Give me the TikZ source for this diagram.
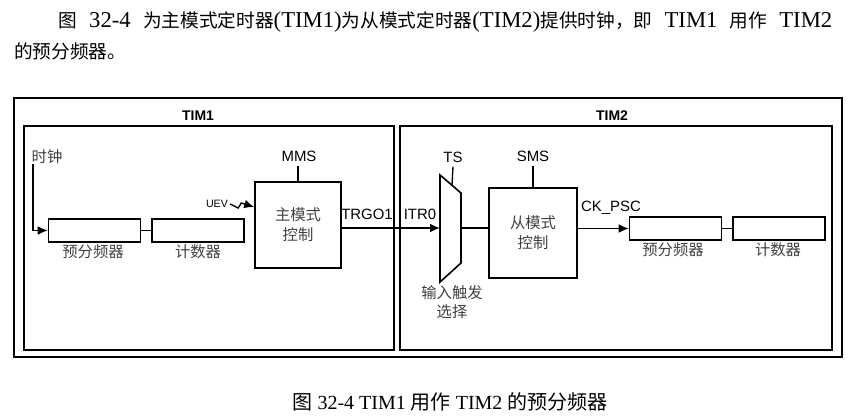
\documentclass[tikz,border=0pt]{standalone}
\usepackage{fontspec}
\setmainfont{Liberation Serif}
\setsansfont{Liberation Sans}
\newfontfamily\cjk{Noto Sans CJK SC}
\newcommand\zh[1]{{\cjk\fontsize{14}{18}\selectfont #1}}
\usetikzlibrary{arrows.meta}

\begin{document}
\begin{tikzpicture}[x=0.75pt, y=-0.75pt,
  frame/.style={draw, line width=0.9pt},
  blk/.style={draw, line width=1.2pt, inner sep=0pt},
  bar/.style={blk, minimum width=69pt, minimum height=17.25pt},
  ctl/.style={blk, align=center, font=\cjk\fontsize{11.5}{15}\selectfont, text=black!75},
  lbl/.style={inner sep=0pt, font=\cjk\fontsize{11.5}{14.5}\selectfont, text=black!75, align=center},
  sig/.style={inner sep=0pt, font=\sffamily\fontsize{11.2}{13}\selectfont},
  ttl/.style={inner sep=0pt, font=\sffamily\bfseries\fontsize{10.5}{12}\selectfont},
  wire/.style={line width=1pt},
  arr/.style={wire, -{Latex[length=7.5pt,width=6.5pt]}}
]
\useasboundingbox (0,0) rectangle (859,419);

% text above and caption below
\node[anchor=west, inner sep=0pt, font=\fontsize{17}{20}\selectfont] (para1) at (58,22)
  {\makebox[580.5pt][s]{\zh{图} 32-4 \zh{为主模式定时器}(TIM1)\zh{为从模式定时器}(TIM2)\zh{提供时钟，即} TIM1 \zh{用作} TIM2}};
\node[anchor=west, inner sep=0pt] (para2) at (14,51) {\zh{的预分频器。}};
\node[inner sep=0pt, font=\fontsize{15}{18}\selectfont] (caption) at (450,402)
  {{\cjk 图} 32-4 TIM1 {\cjk 用作} TIM2 {\cjk 的预分频器}};

% frames
\draw[frame] (14,98) rectangle (842,357);
\draw[frame] (24,126) rectangle (394,350);
\draw[frame] (400,126) rectangle (832,350);
\node[ttl] (tim1) at (198,116) {TIM1};
\node[ttl] (tim2) at (612,116) {TIM2};

% TIM1
\node[lbl] (clklbl) at (47,157) {时钟};
\coordinate (clk) at (33,164);
\node[bar] (psc1) at (94.5,230.5) {};
\node[bar] (cnt1) at (198,230.5) {};
\node[lbl] (psc1lbl) at (93,252) {预分频器};
\node[lbl] (cnt1lbl) at (198,252) {计数器};
\node[ctl, minimum width=64.5pt, minimum height=64.5pt] (mst) at (298,225) {主模式\\控制};
\node[sig] (mms) at (299,156) {MMS};
\node[sig, font=\sffamily\fontsize{8}{9}\selectfont] (uev) at (217,204) {UEV};
\node[sig] (trgo) at (367,214) {TRGO1};

\draw[arr] (clk) |- (psc1.west);
\draw[wire] (psc1) -- (cnt1);
\draw[wire] (mst.north) -- ++(0,-15);
\draw[arr] (uev.east) ++(2,0) -- ++(8,4) -- ++(3,-5) -- (mst.west |- 0,207);

% TIM2
\coordinate (muxin) at (440,228);
\coordinate (muxout) at (461,228);
\coordinate (muxtop) at (452,185);
\draw[blk] (440,175) -- (461,193) -- (461,263) -- (440,282) -- cycle;
\node[sig] (ts) at (453,157) {TS};
\node[lbl] (muxlbl) at (452,302) {输入触发\\选择};
\node[sig] (itr) at (420,214) {ITR0};
\node[ctl, minimum width=66pt, minimum height=67.5pt] (slv) at (533,233) {从模式\\控制};
\node[sig] (sms) at (533,156) {SMS};
\node[sig] (ckpsc) at (611,208) {CK\_PSC};
\node[bar] (psc2) at (675.5,228.5) {};
\node[bar] (cnt2) at (779,228.5) {};
\node[lbl] (psc2lbl) at (673,250) {预分频器};
\node[lbl] (cnt2lbl) at (778,250) {计数器};

\draw[arr] (mst.east |- muxin) -- (muxin);
\draw[wire] (ts.south) ++(0,4) -- (muxtop);
\draw[wire] (muxout) -- (slv.west |- muxout);
\draw[wire] (slv.north) -- ++(0,-21);
\draw[arr] (slv.east |- psc2) -- (psc2.west);
\draw[wire] (psc2) -- (cnt2);
\end{tikzpicture}
\end{document}
